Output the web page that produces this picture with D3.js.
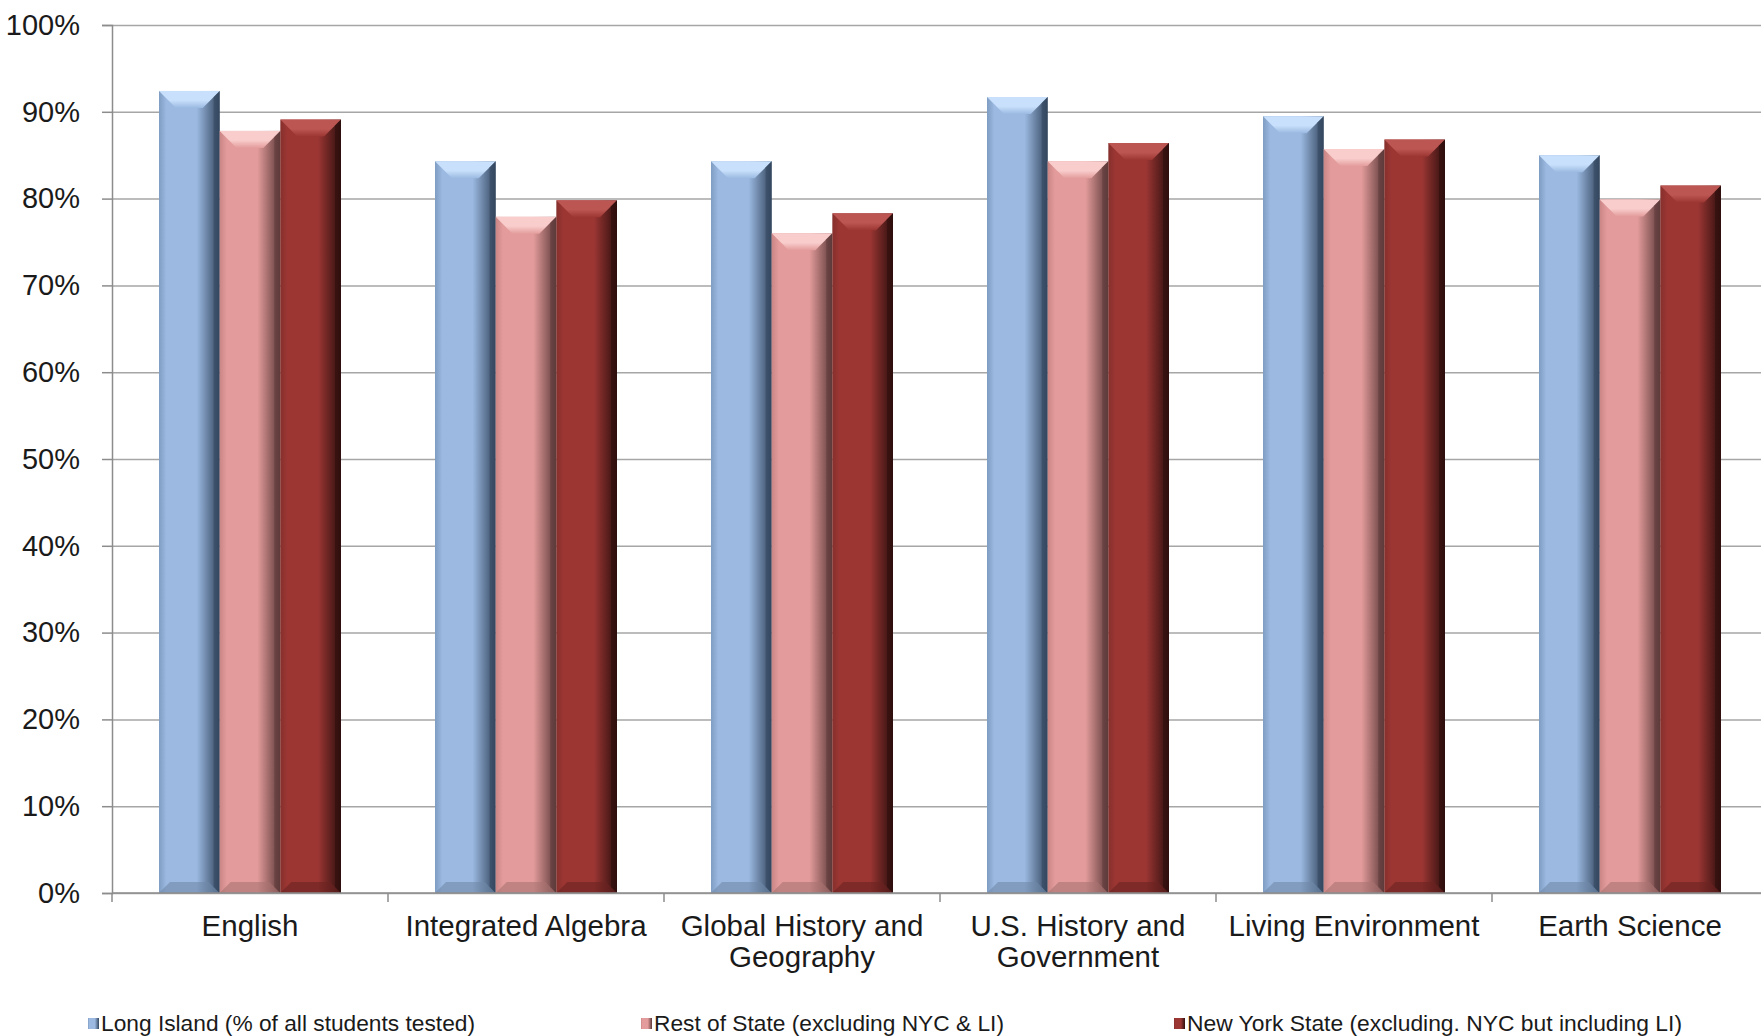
<!DOCTYPE html>
<html>
<head>
<meta charset="utf-8">
<script src="https://cdn.jsdelivr.net/npm/d3@7"></script>
<style>
  body { margin: 0; background: #fff; }
  text { font-family: "Liberation Sans", Arial, sans-serif; fill: #1a1a1a; }
</style>
</head>
<body>
<svg id="chart" width="1761" height="1036"></svg>
<script>
const categories = [
  ['English'],
  ['Integrated Algebra'],
  ['Global History and', 'Geography'],
  ['U.S. History and', 'Government'],
  ['Living Environment'],
  ['Earth Science']
];
const seriesNames = [
  'Long Island (% of all students tested)',
  'Rest of State (excluding NYC & LI)',
  'New York State (excluding. NYC but including LI)'
];
const longIsland = [92.4, 84.3, 84.3, 91.7, 89.5, 85.0];
const restOfState = [87.8, 77.9, 76.0, 84.3, 85.7, 79.9];
const newYorkState = [89.1, 79.8, 78.3, 86.4, 86.8, 81.5];
const yTicks = [0, 10, 20, 30, 40, 50, 60, 70, 80, 90, 100];

// body, left edge, right edge, top bevel, bottom bevel
const palette = [
  { body: '#9bb9e1', left: '#7f9cc2', right: '#34475f', top: '#c8e0fb', bottom: '#6f88a8' },
  { body: '#e39c9b', left: '#c98584', right: '#5e3a3a', top: '#f8cdcc', bottom: '#a97372' },
  { body: '#9c3633', left: '#86302d', right: '#2e0f0e', top: '#bb5653', bottom: '#6b2321' }
];

const svg = d3.select('#chart');
const plotLeft = 112, plotRight = 1768, plotTop = 25, plotBottom = 893;
const values = [longIsland, restOfState, newYorkState];

const x0 = d3.scaleBand().domain(d3.range(categories.length)).range([plotLeft, plotRight]);
const x1 = d3.scaleBand().domain(d3.range(seriesNames.length)).range([47, 229]);
const y = d3.scaleLinear().domain([0, 100]).range([plotBottom, plotTop]);

// gradients for the bevelled bars
const defs = svg.append('defs');
palette.forEach((c, i) => {
  const g = defs.append('linearGradient').attr('id', 'body' + i)
    .attr('x1', '0%').attr('x2', '100%').attr('y1', '0%').attr('y2', '0%');
  g.append('stop').attr('offset', '0%').attr('stop-color', c.left);
  g.append('stop').attr('offset', '12%').attr('stop-color', c.body);
  g.append('stop').attr('offset', '62%').attr('stop-color', c.body);
  g.append('stop').attr('offset', '100%').attr('stop-color', c.right);

  const t = defs.append('linearGradient').attr('id', 'top' + i)
    .attr('x1', '0%').attr('x2', '0%').attr('y1', '0%').attr('y2', '100%');
  t.append('stop').attr('offset', '0%').attr('stop-color', c.top);
  t.append('stop').attr('offset', '55%').attr('stop-color', c.top);
  t.append('stop').attr('offset', '100%').attr('stop-color', c.body);
});

// grid
svg.append('g')
  .attr('transform', `translate(${plotLeft},0)`)
  .call(d3.axisLeft(y).tickValues(yTicks).tickSize(-(1761 - plotLeft)).tickFormat(''))
  .call(g => g.select('.domain').remove())
  .selectAll('.tick line')
  .attr('stroke', '#a6a6a6')
  .attr('stroke-width', 1.5);

// y axis
const yAxis = svg.append('g')
  .attr('transform', `translate(${plotLeft},0)`)
  .call(d3.axisLeft(y).tickValues(yTicks).tickSize(10).tickPadding(22).tickFormat(d => d + '%'));
yAxis.select('.domain').attr('stroke', '#8c8c8c').attr('stroke-width', 1.5);
yAxis.selectAll('.tick line').attr('stroke', '#8c8c8c').attr('stroke-width', 1.5);
yAxis.selectAll('.tick text').attr('font-size', 29).style('fill', '#1a1a1a');

// bars
categories.forEach((cat, ci) => {
  values.forEach((series, si) => {
    const bx = x0(ci) + x1(si);
    const bw = x1.bandwidth();
    const by = y(series[ci]);
    const bh = plotBottom - by;
    const b = 17, bb = 11;
    const g = svg.append('g');
    g.append('rect')
      .attr('x', bx).attr('y', by).attr('width', bw).attr('height', bh)
      .attr('fill', `url(#body${si})`);
    g.append('polygon')
      .attr('points', [[bx, by], [bx + bw, by], [bx + bw - b, by + b], [bx + b, by + b]].join(' '))
      .attr('fill', `url(#top${si})`);
    g.append('polygon')
      .attr('points', [[bx, plotBottom], [bx + bw, plotBottom], [bx + bw - bb, plotBottom - bb], [bx + bb, plotBottom - bb]].join(' '))
      .attr('fill', palette[si].bottom).attr('opacity', 0.6);
    g.append('polygon')
      .attr('points', [[bx + bw, by], [bx + bw, plotBottom], [bx + bw - 6, plotBottom - 6], [bx + bw - 6, by + 6]].join(' '))
      .attr('fill', palette[si].right).attr('opacity', 0.6);
  });
});

// x axis
const xAxis = svg.append('g').attr('transform', `translate(0,${plotBottom})`);
xAxis.append('line').attr('x1', plotLeft).attr('x2', 1761)
  .attr('stroke', '#8c8c8c').attr('stroke-width', 1.5);
d3.range(categories.length + 1).forEach(i => {
  const tx = plotLeft + i * x0.bandwidth();
  xAxis.append('line').attr('x1', tx).attr('x2', tx).attr('y1', 0).attr('y2', 9)
    .attr('stroke', '#8c8c8c').attr('stroke-width', 1.5);
});
categories.forEach((lines, ci) => {
  const t = xAxis.append('text')
    .attr('x', x0(ci) + x0.bandwidth() / 2)
    .attr('y', 43)
    .attr('text-anchor', 'middle')
    .attr('font-size', 29.5);
  lines.forEach((l, li) => {
    t.append('tspan').attr('x', x0(ci) + x0.bandwidth() / 2).attr('dy', li ? 31 : 0).text(l);
  });
});

// legend
const legendX = [88, 641, 1174];
const legendW = [374, 350, 495];
seriesNames.forEach((name, i) => {
  const g = svg.append('g').attr('transform', `translate(${legendX[i]},1023)`);
  g.append('rect').attr('x', 0).attr('y', -5).attr('width', 11).attr('height', 11)
    .attr('fill', `url(#body${i})`);
  g.append('text').attr('x', 13).attr('y', 8)
    .attr('font-size', 22)
    .attr('textLength', legendW[i])
    .attr('lengthAdjust', 'spacingAndGlyphs')
    .text(name);
});
</script>
</body>
</html>
